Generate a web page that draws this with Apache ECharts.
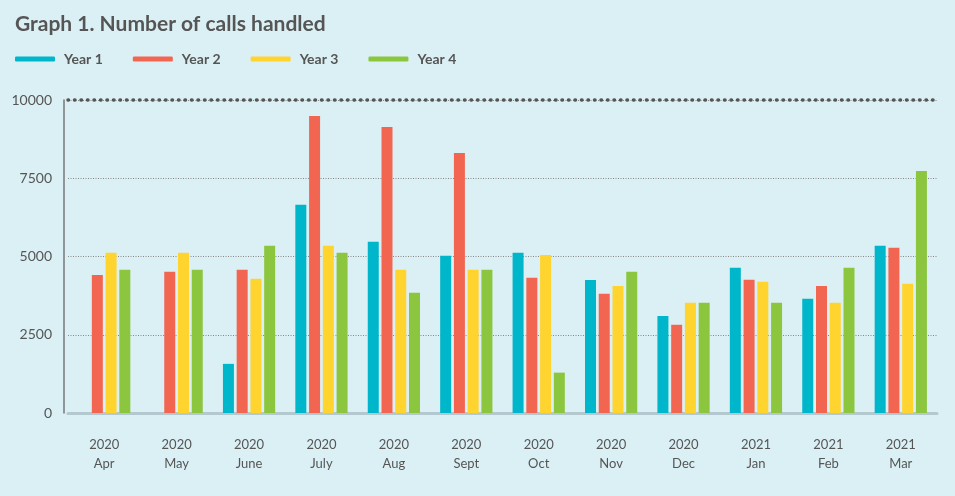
<!DOCTYPE html>
<html>
<head>
<meta charset="utf-8">
<script src="https://cdn.jsdelivr.net/npm/echarts@6/dist/echarts.min.js"></script>
<style>
  html, body { margin: 0; padding: 0; background: #dbf0f5; }
  #chart { width: 955px; height: 496px; }
</style>
</head>
<body>
<div id="chart"></div>
<script>
const months = ['Apr', 'May', 'June', 'July', 'Aug', 'Sept', 'Oct', 'Nov', 'Dec', 'Jan', 'Feb', 'Mar'];
const years = ['2020', '2020', '2020', '2020', '2020', '2020', '2020', '2020', '2020', '2021', '2021', '2021'];
const seriesNames = ['Year 1', 'Year 2', 'Year 3', 'Year 4'];
const year1 = [null, null, 1570, 6650, 5470, 5020, 5120, 4250, 3100, 4640, 3650, 5340];
const year2 = [4410, 4510, 4580, 9490, 9140, 8310, 4320, 3810, 2820, 4260, 4060, 5280];
const year3 = [5120, 5120, 4290, 5340, 4580, 4580, 5050, 4060, 3520, 4190, 3520, 4130];
const year4 = [4580, 4580, 5340, 5120, 3840, 4580, 1290, 4510, 3520, 3520, 4640, 7730];
const yTicks = [0, 2500, 5000, 7500, 10000];

const colors = ['#00b6cb', '#f26651', '#ffd42f', '#8cc63f'];
const font = 'Lato';

const chart = echarts.init(document.getElementById('chart'));

function barSeries(name, data, idx) {
  const s = {
    name,
    type: 'bar',
    data,
    barWidth: 11,
    barGap: '25%',
    itemStyle: { color: colors[idx] },
  };
  if (idx === 0) {
    // top gridline is drawn heavier, as round dots
    s.markLine = {
      silent: true,
      symbol: 'none',
      label: { show: false },
      lineStyle: { color: '#555', type: [0.5, 6], cap: 'round', width: 3.5 },
      data: [{ yAxis: yTicks[yTicks.length - 1] }],
    };
  }
  return s;
}

chart.setOption({
  backgroundColor: '#dbf0f5',
  color: colors,
  textStyle: { fontFamily: font },
  title: {
    text: 'Graph 1. Number of calls handled',
    left: 10,
    top: 9,
    textStyle: { fontFamily: font, fontSize: 21, fontWeight: 'bold', color: '#555' },
  },
  legend: {
    left: 10,
    top: 47,
    icon: 'roundRect',
    itemWidth: 40,
    itemHeight: 5,
    itemGap: 30,
    data: seriesNames,
    textStyle: { fontFamily: font, fontSize: 14, fontWeight: 'bold', color: '#555', padding: [0, 0, 0, 4] },
  },
  grid: { left: 68, right: 18, top: 100, bottom: 83 },
  xAxis: {
    type: 'category',
    data: months.map((m, i) => years[i] + '\n' + m),
    axisLine: { lineStyle: { color: '#b4c8cf', width: 3 } },
    axisTick: { show: false },
    axisLabel: { margin: 22, fontSize: 13, lineHeight: 19, color: '#555', fontFamily: font },
  },
  yAxis: {
    type: 'value',
    min: 0,
    max: 10000,
    interval: 2500,
    offset: 4,
    axisLine: { show: true, lineStyle: { color: '#777', width: 1.5 } },
    axisTick: { show: false },
    axisLabel: { margin: 12, fontSize: 14, color: '#555', fontFamily: font, formatter: (v) => String(v) },
    splitLine: { lineStyle: { color: '#888', type: [1, 1.5], width: 1 } },
  },
  series: [
    barSeries(seriesNames[0], year1, 0),
    barSeries(seriesNames[1], year2, 1),
    barSeries(seriesNames[2], year3, 2),
    barSeries(seriesNames[3], year4, 3),
  ],
});
</script>
</body>
</html>
